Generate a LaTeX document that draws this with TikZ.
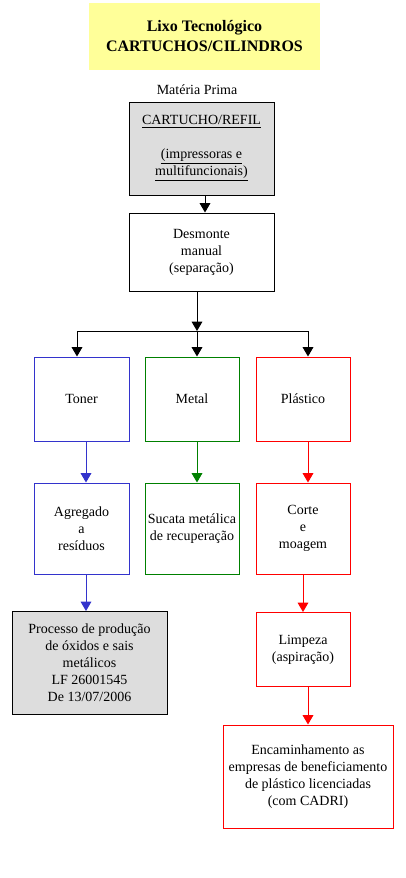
\documentclass[tikz,border=0pt]{standalone}
\usepackage{fontspec}
\setmainfont{Liberation Serif}
\usepackage{xcolor}
\usetikzlibrary{arrows.meta,calc}
\definecolor{titleyellow}{RGB}{255,255,153}
\definecolor{boxgray}{RGB}{221,221,221}
\definecolor{tonerblue}{RGB}{51,51,204}
\definecolor{metalgreen}{RGB}{0,128,0}
\definecolor{plasticred}{RGB}{255,0,0}

\begin{document}
\begin{tikzpicture}[x=0.75pt, y=-0.75pt,
    every node/.style = {font=\fontsize{10.5}{12.75}\selectfont, align=center, inner sep=0pt},
    flowbox/.style = {draw, line width=0.75pt, minimum width=#1*0.75pt},
    flowbox/.default = 94,
    boxh/.style = {minimum height=#1*0.75pt},
    flowline/.style = {line width=0.75pt, -{Triangle[width=8pt,length=7pt]}}]
    \useasboundingbox (0,0) rectangle (405,878);
    % Title and raw material
    \node[fill=titleyellow, minimum width=231*0.75pt, boxh=67,
          font=\fontsize{12}{15}\selectfont\bfseries] (title) at (204.5,36.5)
          {Lixo Tecnológico\\CARTUCHOS/CILINDROS};
    \node (mp) at (197,90) {Matéria Prima};
    \node[flowbox=145, fill=boxgray, boxh=93] (refil) at (201.5,148.5)
          {\underline{CARTUCHO/REFIL}\\[12.75pt]\underline{(impressoras e}\\\underline{multifuncionais)}};
    \node[flowbox=145, boxh=78] (desm) at (201.5,252) {Desmonte\\manual\\(separação)};
    % Separated materials
    \node[flowbox=95, draw=tonerblue, boxh=84] (toner) at (81.5,399) {Toner};
    \node[flowbox, draw=metalgreen, boxh=84] (metal) at (192,399) {Metal};
    \node[flowbox, draw=plasticred, boxh=84] (plast) at (303,399) {Plástico};
    \node[flowbox=95, draw=tonerblue, boxh=91] (agreg) at (81.5,528.5) {Agregado\\a\\resíduos};
    \node[flowbox, draw=metalgreen, boxh=91] (sucata) at (192,528.5) {Sucata metálica\\de recuperação};
    \node[flowbox, draw=plasticred, boxh=91] (corte) at (303,528.5) {Corte\\e\\moagem};
    % Final destinations
    \node[flowbox=155, fill=boxgray, boxh=103] (proc) at (89.5,663)
          {Processo de produção\\de óxidos e sais\\metálicos\\LF 26001545\\De 13/07/2006};
    \node[flowbox, draw=plasticred, boxh=74] (limp) at (303,649.5) {Limpeza\\(aspiração)};
    \node[flowbox=170, draw=plasticred, boxh=103] (enc) at (308,776.5)
          {Encaminhamento as\\empresas de beneficiamento\\de plástico licenciadas\\(com CADRI)};
    % Connectors
    \coordinate (jl) at (77,331);
    \coordinate (jc) at (197,331);
    \coordinate (jr) at (308,331);
    \draw[flowline] ($(refil.south)+(3.5,0)$) coordinate (r1) -- (r1 |- desm.north);
    \draw[flowline] ($(desm.south)+(-4.5,0)$) -- (jc);
    \draw[line width=0.75pt] (jl) -- (jr);
    \foreach \j/\b in {jl/toner, jc/metal, jr/plast}
        \draw[flowline] (\j) -- (\j |- \b.north);
    \draw[flowline, tonerblue] ($(toner.south)+(4.5,0)$) coordinate (t1) -- (t1 |- agreg.north);
    \draw[flowline, metalgreen] ($(metal.south)+(5,0)$) coordinate (m1) -- (m1 |- sucata.north);
    \draw[flowline, plasticred] ($(plast.south)+(5,0)$) coordinate (p1) -- (p1 |- corte.north);
    \draw[flowline, tonerblue] (t1 |- agreg.south) -- (t1 |- proc.north);
    \draw[flowline, plasticred] (corte.south) -- (limp.north);
    \draw[flowline, plasticred] (p1 |- limp.south) -- (p1 |- enc.north);
\end{tikzpicture}
\end{document}
